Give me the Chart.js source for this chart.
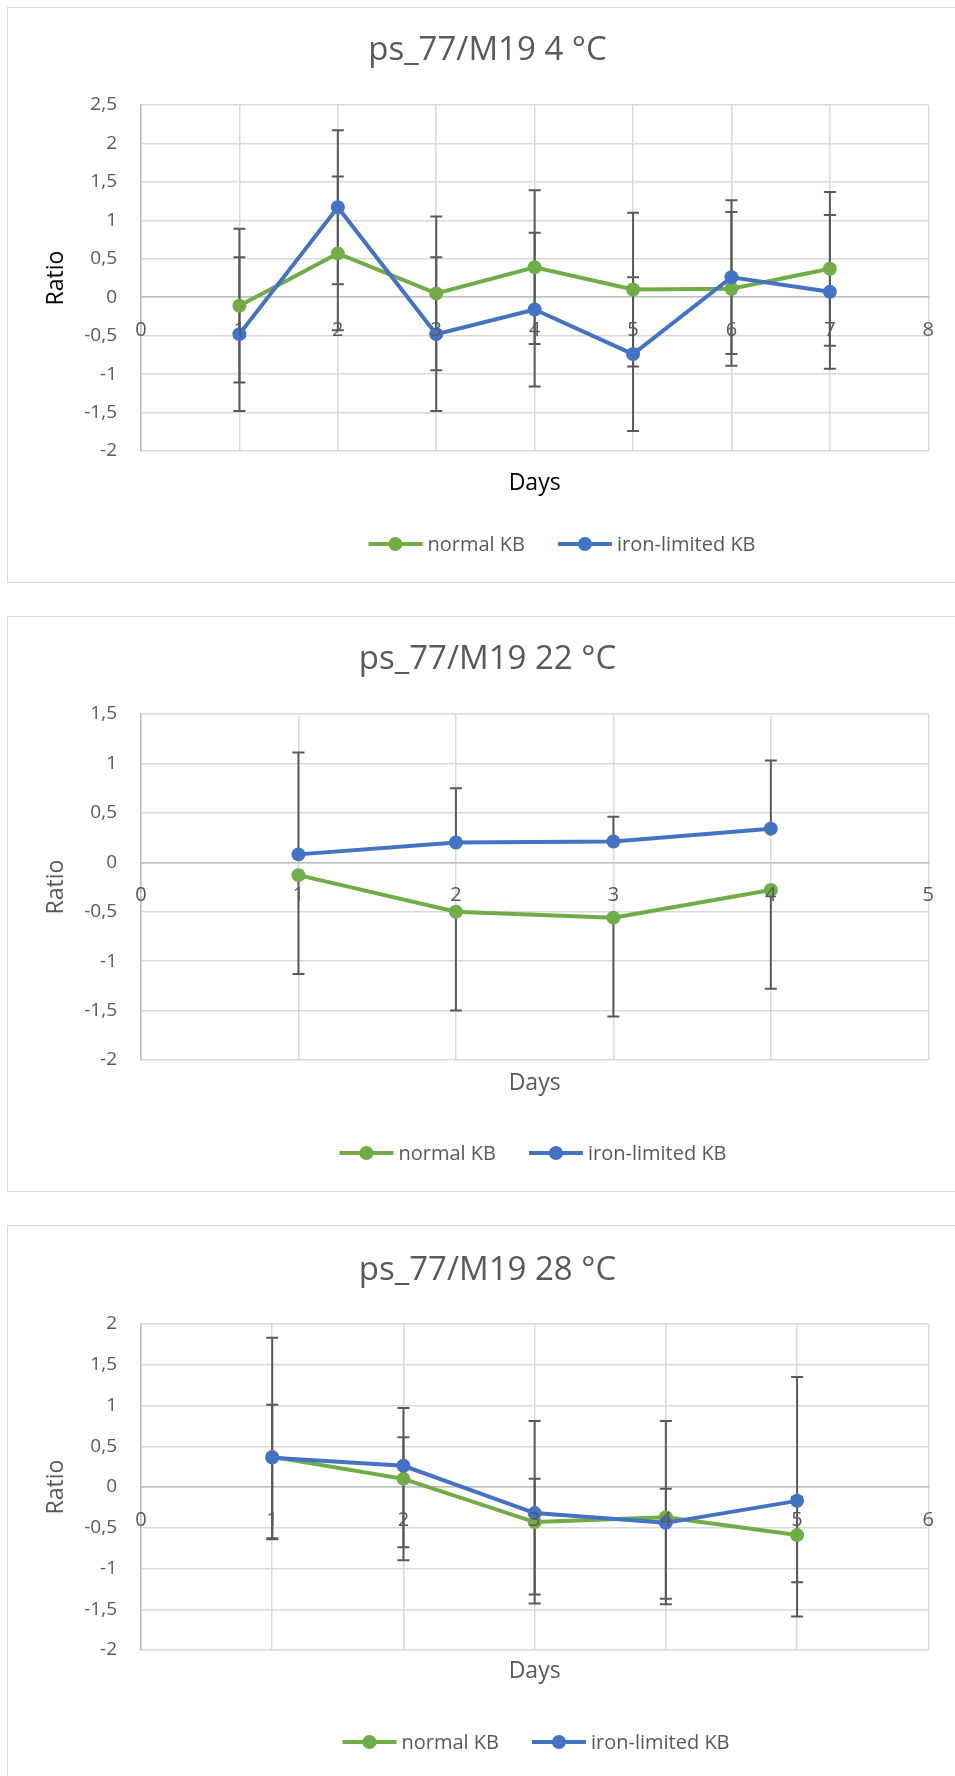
<!DOCTYPE html>
<html>
<head>
<meta charset="utf-8">
<script src="https://cdn.jsdelivr.net/npm/chart.js@4.4.0/dist/chart.umd.min.js"></script>
<style>
  html, body { margin: 0; padding: 0; background: #fff; width: 955px; height: 1776px; overflow: hidden; }
  .panel { position: absolute; left: 7px; width: 960px; border: 1px solid #d9d9d9; box-sizing: border-box; background: #fff; }
  .panel canvas { position: absolute; left: 0; top: 0; }
</style>
</head>
<body>
<div class="panel" style="top:7px;height:576px"><canvas id="c1" width="947" height="574"></canvas></div>
<div class="panel" style="top:616px;height:576px"><canvas id="c2" width="947" height="574"></canvas></div>
<div class="panel" style="top:1225px;height:580px"><canvas id="c3" width="947" height="550"></canvas></div>
<script>
// ---- data ----
const titles = ['ps_77/M19 4 °C', 'ps_77/M19 22 °C', 'ps_77/M19 28 °C']
const seriesNames = ['normal KB', 'iron-limited KB']

// 4 °C
const days1 = [1, 2, 3, 4, 5, 6, 7]
const normal1 = [-0.11, 0.57, 0.05, 0.39, 0.10, 0.11, 0.37]
const iron1 = [-0.48, 1.17, -0.48, -0.16, -0.74, 0.26, 0.07]
const normalUp1 = [1, 1, 1, 1, 1, 1, 1]
const normalDown1 = [1, 1, 1, 1, 1, 1, 1]
const ironUp1 = [1, 1, 1, 1, 1, 1, 1]
const ironDown1 = [1, 1, 1, 1, 1, 1, 1]
const xTicks1 = [0, 1, 2, 3, 4, 5, 6, 7, 8]
const yTicks1 = [-2, -1.5, -1, -0.5, 0, 0.5, 1, 1.5, 2, 2.5]

// 22 °C
const days2 = [1, 2, 3, 4]
const normal2 = [-0.13, -0.50, -0.56, -0.28]
const iron2 = [0.08, 0.20, 0.21, 0.34]
const normalUp2 = [null, null, null, null]
const normalDown2 = [1, 1, 1, 1]
const ironUp2 = [1.03, 0.55, 0.25, 0.69]
const ironDown2 = [null, null, null, null]
const xTicks2 = [0, 1, 2, 3, 4, 5]
const yTicks2 = [-2, -1.5, -1, -0.5, 0, 0.5, 1, 1.5]

// 28 °C
const days3 = [1, 2, 3, 4, 5]
const normal3 = [0.37, 0.10, -0.43, -0.37, -0.59]
const iron3 = [0.36, 0.26, -0.32, -0.44, -0.17]
const normalUp3 = [0.64, 0.87, 1.24, 1.18, 0.47]
const normalDown3 = [1, 1, 1, 1, 1]
const ironUp3 = [1.47, 0.35, 0.42, 0.42, 1.52]
const ironDown3 = [1, 1, 1, 1, 1]
const xTicks3 = [0, 1, 2, 3, 4, 5, 6]
const yTicks3 = [-2, -1.5, -1, -0.5, 0, 0.5, 1, 1.5, 2]

const GREEN = '#70ad47'
const BLUE = '#4472c4'
const GREY = '#595959'

Chart.defaults.font.family = '"Open Sans", sans-serif'

// error bars drawn under the lines, through the chart's own scales
const errorBars = {
    id: 'errorBars',
    beforeDatasetsDraw(chart){
        const {ctx, scales: {x, y}} = chart
        ctx.save()
        ctx.strokeStyle = GREY
        ctx.lineWidth = 2
        chart.data.datasets.forEach(ds => {
            ds.data.forEach((p, i) => {
                const px = x.getPixelForValue(p.x)
                const py0 = y.getPixelForValue(p.y)
                const ends = []
                if(ds.errUp && ds.errUp[i] != null) ends.push(p.y + ds.errUp[i])
                if(ds.errDown && ds.errDown[i] != null) ends.push(p.y - ds.errDown[i])
                ends.forEach(v => {
                    const py = y.getPixelForValue(v)
                    ctx.beginPath()
                    ctx.moveTo(px, py0)
                    ctx.lineTo(px, py)
                    ctx.moveTo(px - 6, py)
                    ctx.lineTo(px + 6, py)
                    ctx.stroke()
                })
            })
        })
        ctx.restore()
    }
}

// excel-style legend: line with marker, then the name
const kbLegend = {
    id: 'kbLegend',
    afterDraw(chart, args, opts){
        const ctx = chart.ctx
        ctx.save()
        ctx.font = '20px "Open Sans"'
        const items = chart.data.datasets.map(ds => ({text: ds.label, color: ds.borderColor, w: ctx.measureText(ds.label).width}))
        const lineW = 54, gap = 5, spacing = 33
        const total = items.reduce((s, it) => s + lineW + gap + it.w, 0) + spacing * (items.length - 1)
        let xx = opts.cx - total / 2
        items.forEach(it => {
            ctx.strokeStyle = it.color
            ctx.lineWidth = 4
            ctx.beginPath()
            ctx.moveTo(xx, opts.y)
            ctx.lineTo(xx + lineW, opts.y)
            ctx.stroke()
            ctx.fillStyle = it.color
            ctx.beginPath()
            ctx.arc(xx + lineW / 2, opts.y, 7, 0, Math.PI * 2)
            ctx.fill()
            ctx.fillStyle = GREY
            ctx.textBaseline = 'middle'
            ctx.fillText(it.text, xx + lineW + gap, opts.y + 1)
            xx += lineW + gap + it.w + spacing
        })
        ctx.restore()
    }
}

const fmt = v => String(v).replace('.', ',')

function drawChart(id, s){
    const canvas = document.getElementById(id)
    const xH = s.daysY - s.plotBottom + 20
    const titleSize = 33
    const titleTop = s.titleY - titleSize * 1.2 / 2
    const xMin = s.xTicks[0], xMax = s.xTicks[s.xTicks.length - 1]
    const yMin = s.yTicks[0], yMax = s.yTicks[s.yTicks.length - 1]
    const series = (name, days, vals, up, down, color, order) => ({
        label: name,
        data: days.map((d, i) => ({x: d, y: vals[i]})),
        errUp: up,
        errDown: down,
        borderColor: color,
        backgroundColor: color,
        pointBackgroundColor: color,
        pointBorderWidth: 0,
        pointRadius: 7,
        borderWidth: 4,
        tension: 0,
        order: order
    })
    return new Chart(canvas, {
        type: 'line',
        data: {
            datasets: [
                series(seriesNames[0], s.days, s.normal, s.normalUp, s.normalDown, GREEN, 1),
                series(seriesNames[1], s.days, s.iron, s.ironUp, s.ironDown, BLUE, 0)
            ]
        },
        options: {
            responsive: false,
            animation: false,
            events: [],
            layout: {padding: {left: 35, right: 23, top: 0, bottom: canvas.height - s.plotBottom - xH}},
            plugins: {
                legend: {display: false},
                tooltip: {enabled: false},
                title: {
                    display: true,
                    text: s.title,
                    color: GREY,
                    font: {size: titleSize, weight: 'normal'},
                    padding: {top: titleTop, bottom: s.plotTop - titleTop - titleSize * 1.2}
                },
                kbLegend: {cx: s.legendCx, y: s.legendY}
            },
            scales: {
                x: {
                    type: 'linear', position: 'bottom', min: xMin, max: xMax,
                    grid: {display: false}, border: {display: false}, ticks: {display: false},
                    title: {display: true, text: 'Days', color: s.axisColor, font: {size: 23}, padding: {top: 0, bottom: 20 - 23 * 1.2 / 2}},
                    afterFit: sc => { sc.height = xH }
                },
                xz: {
                    type: 'linear', axis: 'x', position: {y: 0}, min: xMin, max: xMax,
                    afterBuildTicks: sc => { sc.ticks = s.xTicks.map(v => ({value: v})) },
                    grid: {color: '#d9d9d9', lineWidth: 1.5, drawTicks: false},
                    border: {color: '#bfbfbf', width: 1.5},
                    ticks: {color: GREY, font: {size: 20}, padding: 21, z: 1, autoSkip: false, maxRotation: 0}
                },
                y: {
                    type: 'linear', position: 'left', min: yMin, max: yMax,
                    afterBuildTicks: sc => { sc.ticks = s.yTicks.map(v => ({value: v})) },
                    afterFit: sc => { sc.width = 98 },
                    grid: {color: '#d9d9d9', lineWidth: 1.5, drawTicks: false},
                    border: {color: '#bfbfbf', width: 1.5},
                    ticks: {color: GREY, font: {size: 19}, padding: 24, callback: fmt},
                    title: {display: true, text: 'Ratio', color: s.axisColor, font: {size: 23}, padding: {top: 0, bottom: 0}}
                }
            }
        },
        plugins: [errorBars, kbLegend]
    })
}

drawChart('c1', {
    title: titles[0], days: days1, normal: normal1, iron: iron1,
    normalUp: normalUp1, normalDown: normalDown1, ironUp: ironUp1, ironDown: ironDown1,
    xTicks: xTicks1, yTicks: yTicks1, axisColor: '#000',
    plotTop: 97, plotBottom: 443, titleY: 43, daysY: 475, legendY: 536, legendCx: 554
})
drawChart('c2', {
    title: titles[1], days: days2, normal: normal2, iron: iron2,
    normalUp: normalUp2, normalDown: normalDown2, ironUp: ironUp2, ironDown: ironDown2,
    xTicks: xTicks2, yTicks: yTicks2, axisColor: GREY,
    plotTop: 97, plotBottom: 443, titleY: 43, daysY: 466, legendY: 536, legendCx: 525
})
drawChart('c3', {
    title: titles[2], days: days3, normal: normal3, iron: iron3,
    normalUp: normalUp3, normalDown: normalDown3, ironUp: ironUp3, ironDown: ironDown3,
    xTicks: xTicks3, yTicks: yTicks3, axisColor: GREY,
    plotTop: 98, plotBottom: 424, titleY: 45, daysY: 445, legendY: 516, legendCx: 528
})
</script>
</body>
</html>
